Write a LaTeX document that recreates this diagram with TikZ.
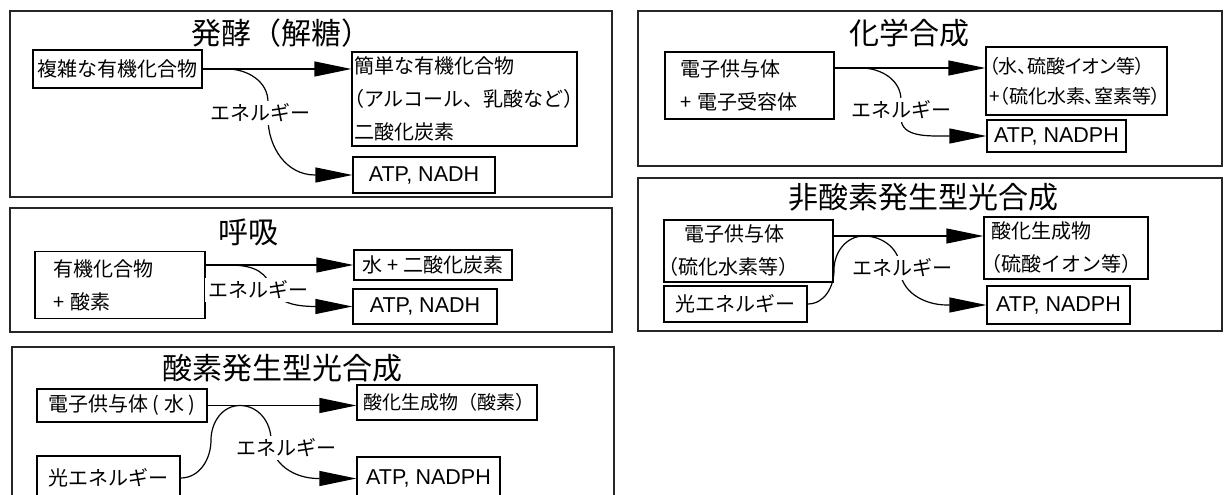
\documentclass[tikz,border=0pt]{standalone}
\usepackage{fontspec}
\setmainfont{Noto Sans CJK JP}
\newfontfamily\titlefont{Noto Sans CJK JP}
\newfontfamily\propfont{Noto Sans CJK JP}[RawFeature=+palt]
\newfontfamily\latinfont{Liberation Sans}
\usetikzlibrary{arrows.meta}
\newcommand{\lp}{\hspace*{-0.5em}}
\begin{document}
\begin{tikzpicture}[x=1pt,y=-1pt,
  frame/.style={draw=black!85, line width=1.5pt},
  box/.style={draw, line width=1.2pt, inner ysep=0pt, font=\fontsize{20}{33}\selectfont},
  latbox/.style={box, inner xsep=3pt, font=\latinfont\fontsize{21.5}{26}\selectfont},
  ttl/.style={inner sep=0pt, font=\titlefont\fontsize{30}{36}\selectfont},
  lbl/.style={fill=white, inner sep=3pt, font=\fontsize{20}{24}\selectfont},
  conn/.style={line width=1.2pt, -{Triangle[length=37pt,width=15pt]}}]
\useasboundingbox (0,0) rectangle (1232,495);
\clip (0,0) rectangle (1232,495);

% ---------- Panel A : fermentation
\draw[frame] (10,11) rectangle (612,197);
\node[ttl] (tA) at (281,33) {発酵（解糖）};
\node[box, minimum width=169pt, minimum height=38pt] (nA1) at (117.5,69) {複雑な有機化合物};
\node[box, align=left, text width=221pt, inner xsep=2pt, minimum height=94pt] (nA2) at (464.5,99) {簡単な有機化合物\\\lp（アルコール、乳酸など）\\二酸化炭素};
\node[latbox, minimum width=142pt, minimum height=36pt] (nA3) at (424,175) {ATP, NADH};
\coordinate (cA) at (227,69);
\draw[conn] (nA1.east) -- (nA1.east -| nA2.west);
\draw[conn] (cA) to[out=0,in=90] (268,102) -- (268,118) to[out=-90,in=180] (315,175) -- (nA3.west);
\node[lbl] (lA) at (260,113) {エネルギー};

% ---------- Panel B : respiration
\draw[frame] (10,208) rectangle (612,332);
\node[ttl] (tB) at (248,232) {呼吸};
\node[box, align=left, text width=134pt, inner xsep=18pt, minimum height=67pt] (nB1) at (120,285) {有機化合物\\+ 酸素};
\node[box, minimum width=158pt, minimum height=30pt] (nB2) at (433,265) {水 + 二酸化炭素};
\node[latbox, minimum width=144pt, minimum height=35pt] (nB3) at (425,306.5) {ATP, NADH};
\coordinate (cB) at (228,265);
\draw[conn] (nB1.east |- nB2.west) -- (nB2.west);
\draw[conn] (cB) to[out=0,in=110] (270,285) to[out=-70,in=180] (317,306.5) -- (nB3.west);
\node[lbl] (lB) at (258,290) {エネルギー};

% ---------- Panel C : oxygenic photosynthesis
\draw[frame, overlay] (12,347) rectangle (614,520);
\node[ttl] (tC) at (282,368) {酸素発生型光合成};
\node[box, minimum width=170pt, minimum height=33pt] (nC1) at (122,405.5) {電子供与体 ( 水 )};
\node[box, overlay, minimum width=143pt, minimum height=44pt] (nC2) at (108.5,478) {光エネルギー};
\node[box, minimum width=180pt, minimum height=35pt, inner xsep=0pt, font=\fontsize{19}{24}\selectfont] (nC3) at (447,402.5) {\hspace*{4pt}酸化生成物（酸素）};
\node[latbox, overlay, minimum width=143pt, minimum height=43pt] (nC4) at (428.5,478.5) {ATP, NADPH};
\coordinate (cC) at (240,405.5);
\draw[conn] (nC1.east) -- (nC1.east -| nC3.west);
\draw[conn] (nC2.east) to[out=0,in=-90] (211,440) to[out=90,in=180] (cC) to[out=0,in=90] (271,440) to[out=-90,in=180] (318,478.5) -- (nC4.west);
\node[lbl] (lC) at (286,448) {エネルギー};

% ---------- Panel D : chemosynthesis
\draw[frame] (638,11) rectangle (1222,166);
\node[ttl] (tD) at (909,33) {化学合成};
\node[box, align=left, text width=139pt, inner xsep=15pt, minimum height=67pt] (nD1) at (749.5,85.5) {電子供与体\\+ 電子受容体};
\node[box, align=left, text width=175pt, inner xsep=3pt, minimum height=68pt, font=\propfont\fontsize{19}{30}\selectfont] (nD2) at (1076.5,81) {（水、硫酸イオン等）\\+（硫化水素、窒素等）};
\node[latbox, minimum width=139pt, minimum height=32pt] (nD3) at (1056.5,136) {ATP, NADPH};
\coordinate (cD) at (861,68);
\draw[conn] (nD1.east |- cD) -- (cD -| nD2.west);
\draw[conn] (cD) to[out=0,in=90] (901,100) -- (901,118) to[out=-90,in=180] (947,136) -- (nD3.west);
\node[lbl] (lD) at (901,110) {エネルギー};

% ---------- Panel E : anoxygenic photosynthesis
\draw[frame] (638,178) rectangle (1222,331);
\node[ttl] (tE) at (923,197) {非酸素発生型光合成};
\node[box, align=left, text width=161pt, inner xsep=4pt, minimum height=62pt] (nE1) at (748.5,251) {\hspace*{16pt}電子供与体\\\lp（硫化水素等）};
\node[box, minimum width=143pt, minimum height=36pt] (nE2) at (735.5,304) {光エネルギー};
\node[box, align=left, text width=150pt, inner xsep=7pt, minimum height=62pt] (nE3) at (1066,248) {酸化生成物\\\lp（硫酸イオン等）};
\node[latbox, minimum width=143pt, minimum height=38pt] (nE4) at (1058.5,305) {ATP, NADPH};
\coordinate (cE) at (864,236);
\draw[conn] (nE1.east |- cE) -- (cE -| nE3.west);
\draw[conn] (nE2.east) to[out=0,in=-90] (834,270) to[out=90,in=180] (cE) to[out=0,in=90] (900,268) to[out=-90,in=180] (947,305) -- (nE4.west);
\node[lbl] (lE) at (902,268) {エネルギー};
\end{tikzpicture}
\end{document}
